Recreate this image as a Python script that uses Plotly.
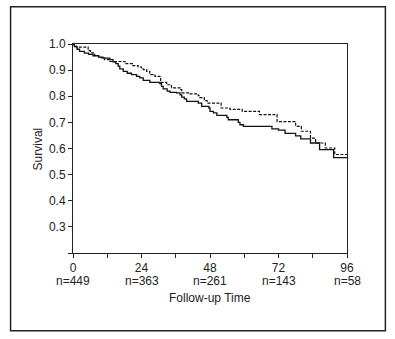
import plotly.graph_objects as go

# ---- data ----
solid_t = [0, 0.5, 1.4, 2.3, 4.0, 5.5, 7, 9, 10.5, 12.9, 14.0, 15.0, 15.8, 16.4, 17.6, 19.0, 20.5,
           22.3, 23.4, 24.6, 26.9, 30.4, 31.0, 31.6, 33, 34, 36.3, 37.5, 38.1, 39.0, 39.8, 43.9,
           45.1, 47.6, 48.0, 49.2, 50.4, 53.9, 54.4, 57.9, 58.5, 59.7, 69.7, 72.0, 74.3,
           78.0, 79.8, 83.2, 86.4, 91.3, 96]
solid_s = [1.0, 0.99, 0.98, 0.972, 0.965, 0.96, 0.955, 0.95, 0.946, 0.94, 0.932, 0.925, 0.915,
           0.905, 0.895, 0.888, 0.883, 0.876, 0.87, 0.861, 0.853, 0.848, 0.838, 0.828, 0.82,
           0.815, 0.813, 0.805, 0.797, 0.79, 0.78, 0.774, 0.761, 0.755, 0.742, 0.736, 0.727,
           0.719, 0.71, 0.70, 0.691, 0.685, 0.675, 0.670, 0.658, 0.648, 0.637, 0.621, 0.596,
           0.565, 0.565]

dash_t = [0, 0.4, 0.8, 1.2, 5.3, 5.6, 6.1, 7.6, 9, 11, 12.9, 18.2, 21, 22.8, 24.0, 24.6, 25.8,
          26.9, 28.7, 30.7, 32.8, 34.5, 37.5, 38.1, 41, 43.9, 44.5, 46.0, 47.0, 51.9, 55, 59.3,
          65.3, 71.5, 78.0, 80.0, 83.2, 85.0, 88.4, 91.7, 96]
dash_s = [1.0, 0.995, 0.992, 0.988, 0.98, 0.975, 0.966, 0.955, 0.948, 0.94, 0.933, 0.925,
          0.917, 0.912, 0.905, 0.902, 0.895, 0.883, 0.876, 0.853, 0.844, 0.832, 0.825, 0.813,
          0.809, 0.802, 0.795, 0.783, 0.774, 0.755, 0.75, 0.742, 0.73, 0.703, 0.685, 0.666,
          0.64, 0.621, 0.602, 0.577, 0.577]

x_tickvals = [0, 12, 24, 36, 48, 60, 72, 84, 96]
x_ticktext = ["0", "", "24", "", "48", "", "72", "", "96"]
n_at_risk_t = [0, 24, 48, 72, 96]
n_at_risk = ["n=449", "n=363", "n=261", "n=143", "n=58"]
y_tickvals = [0.2, 0.3, 0.4, 0.5, 0.6, 0.7, 0.8, 0.9, 1.0]
y_ticktext = ["", "0.3", "0.4", "0.5", "0.6", "0.7", "0.8", "0.9", "1.0"]

FONT = "Liberation Sans, Arial, sans-serif"
FS = 12
INK = "#222222"

fig = go.Figure()
fig.add_trace(go.Scatter(x=dash_t, y=dash_s, mode="lines", line_shape="hv",
                         line=dict(color="#111111", width=1.2, dash="3px,1.5px"),
                         cliponaxis=True, showlegend=False, hoverinfo="skip"))
fig.add_trace(go.Scatter(x=solid_t, y=solid_s, mode="lines", line_shape="hv",
                         line=dict(color="#111111", width=1.3),
                         cliponaxis=True, showlegend=False, hoverinfo="skip"))

L, R, T, B = 73.3, 48.3, 44.3, 85.7
W, H = 395, 339
pw, ph = W - L - R, H - T - B

annotations = [
    dict(text="Survival", xref="paper", yref="paper",
         x=(38.3 - L) / pw, y=0.5, textangle=-90, showarrow=False,
         xanchor="center", yanchor="middle", font=dict(family=FONT, size=FS, color=INK)),
    dict(text="Follow-up Time", xref="paper", yref="paper",
         x=0.5, y=(H - B - 298.5) / ph, showarrow=False,
         xanchor="center", yanchor="middle", font=dict(family=FONT, size=FS, color=INK)),
]
for t, lab in zip(n_at_risk_t, n_at_risk):
    annotations.append(dict(text=lab, xref="x", yref="paper", x=t,
                            y=(H - B - 281) / ph, showarrow=False,
                            xanchor="center", yanchor="middle",
                            font=dict(family=FONT, size=FS, color=INK)))

fig.update_layout(
    width=W, height=H,
    margin=dict(l=L, r=R, t=T, b=B, pad=0),
    paper_bgcolor="white", plot_bgcolor="white",
    font=dict(family=FONT, size=FS, color=INK),
    xaxis=dict(range=[0, 96], tickvals=x_tickvals, ticktext=x_ticktext,
               ticks="outside", ticklen=4, tickwidth=1, tickcolor=INK,
               showline=True, linecolor=INK, linewidth=1, mirror=True,
               showgrid=False, zeroline=False, tickangle=0,
               tickfont=dict(family=FONT, size=FS, color=INK)),
    yaxis=dict(range=[0.2, 1.0], tickvals=y_tickvals, ticktext=y_ticktext,
               ticks="outside", ticklen=4, tickwidth=1, tickcolor=INK,
               showline=True, linecolor=INK, linewidth=1, mirror=True,
               showgrid=False, zeroline=False,
               tickfont=dict(family=FONT, size=FS, color=INK)),
    shapes=[dict(type="rect", xref="paper", yref="paper",
                 x0=(11 - L) / pw, x1=(385 - L) / pw,
                 y0=(H - B - 331) / ph, y1=(H - B - 7) / ph,
                 line=dict(color=INK, width=1.5), fillcolor="rgba(0,0,0,0)")],
    annotations=annotations,
)

fig.write_html("out.html", config={"displayModeBar": False},
               post_script="document.body.style.margin='0';")
